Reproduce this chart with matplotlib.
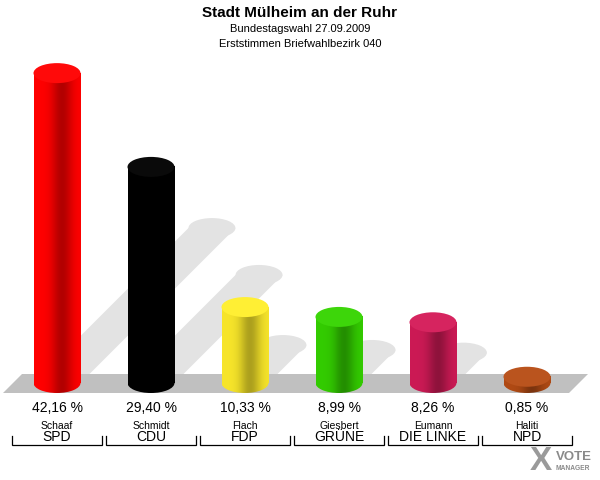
import numpy as np
import matplotlib.pyplot as plt
from matplotlib.patches import Ellipse, Polygon
from matplotlib.colors import to_rgb

plt.rcParams['font.family'] = ['Liberation Sans', 'DejaVu Sans']

title = "Stadt Mülheim an der Ruhr"
subtitle1 = "Bundestagswahl 27.09.2009"
subtitle2 = "Erststimmen Briefwahlbezirk 040"
candidates = ["Schaaf", "Schmidt", "Flach", "Giesbert", "Eumann", "Haliti"]
parties = ["SPD", "CDU", "FDP", "GRÜNE", "DIE LINKE", "NPD"]
values = [42.16, 29.40, 10.33, 8.99, 8.26, 0.85]
colors = ["#ff0000", "#000000", "#f7e52a", "#33cc00", "#cc1a55", "#b04a14"]

W, H = 600, 480
fig = plt.figure(figsize=(6, 4.8), dpi=100)
ax = fig.add_axes([0, 0, 1, 1])

# pixel layout: category i centred at 57 + 94*i, baseline at y=383 from top
step_px = 94.0
px_per_pct = 7.35
x0_px = 57.0
base_px = 383.0
ax.axis("off")

bw = 47 / step_px          # bar width in x units
eh = 20 / px_per_pct       # ellipse height in % units
xs = np.arange(len(values))

# shadows
for x, v in zip(xs, values):
    dy = v / 2
    dx = dy * px_per_pct / step_px
    poly = Polygon([(x - bw / 2, 0), (x + bw / 2, 0), (x + bw / 2 + dx, dy), (x - bw / 2 + dx, dy)],
                   closed=True, facecolor="#e3e3e3", edgecolor="none", zorder=1)
    ax.add_patch(poly)
    ax.add_patch(Ellipse((x + dx, dy), bw, eh, facecolor="#e3e3e3", edgecolor="none", zorder=1))

# floor
fl_top = 9 / px_per_pct
fl_bot = -10 / px_per_pct
floor = Polygon([((3 - x0_px) / step_px, fl_bot), ((22 - x0_px) / step_px, fl_top),
                 ((588 - x0_px) / step_px, fl_top), ((569 - x0_px) / step_px, fl_bot)],
                closed=True, facecolor="#c0c0c0", edgecolor="none", zorder=2)
ax.add_patch(floor)

# cylinders
t = np.linspace(0, 1, 64)
shade = 1 - 0.3 * np.exp(-((t - 0.6) / 0.22) ** 2)
for x, v, c in zip(xs, values, colors):
    rgb = np.array(to_rgb(c))
    grad = np.clip(shade[None, :, None] * rgb[None, None, :], 0, 1)
    ax.imshow(grad, extent=[x - bw / 2, x + bw / 2, 0, v], aspect="auto",
              interpolation="bilinear", zorder=3)
    bottom = Ellipse((x, 0), bw, eh, transform=ax.transData)
    im2 = ax.imshow(grad, extent=[x - bw / 2, x + bw / 2, -eh / 2, 0], aspect="auto",
                    interpolation="bilinear", zorder=3)
    im2.set_clip_path(bottom)
    top_col = np.clip(rgb + 0.04, 0, 1)
    ax.add_patch(Ellipse((x, v), bw, eh, facecolor=top_col, edgecolor="none", zorder=4))

ax.set_xlim(-x0_px / step_px, (W - x0_px) / step_px)
ax.set_ylim(-(H - base_px) / px_per_pct, base_px / px_per_pct)


def ypx(p):
    return (base_px - p) / px_per_pct


for x, v, cand, party in zip(xs, values, candidates, parties):
    ax.text(x, ypx(408), f"{v:.2f} %".replace(".", ","), ha="center", va="center",
            fontsize=10, color="#000000")
    ax.text(x, ypx(426), cand, ha="center", va="center", fontsize=7.5)
    ax.text(x, ypx(437), party, ha="center", va="center", fontsize=10)
    xl, xr = x - 45 / step_px, x + 45 / step_px
    ax.plot([xl, xl, xr, xr], [ypx(436), ypx(445), ypx(445), ypx(436)],
            color="#000000", lw=0.9, solid_joinstyle="miter")

fig.text(0.5, 1 - 13 / H, title, ha="center", va="center", fontsize=11, fontweight="bold")
fig.text(0.5, 1 - 29 / H, subtitle1, ha="center", va="center", fontsize=8)
fig.text(0.5, 1 - 44 / H, subtitle2, ha="center", va="center", fontsize=8)

# logo
fig.text(541 / W, 1 - 461 / H, "X", ha="center", va="center", fontsize=24,
         fontweight="bold", color="#9a9a9a")
fig.text(556 / W, 1 - 457 / H, "VOTE", ha="left", va="center", fontsize=9.5,
         fontweight="bold", color="#8a8a8a")
fig.text(556 / W, 1 - 468 / H, "MANAGER", ha="left", va="center", fontsize=4.8,
         fontweight="bold", color="#8a8a8a")

fig.savefig("out.png", dpi=100)
